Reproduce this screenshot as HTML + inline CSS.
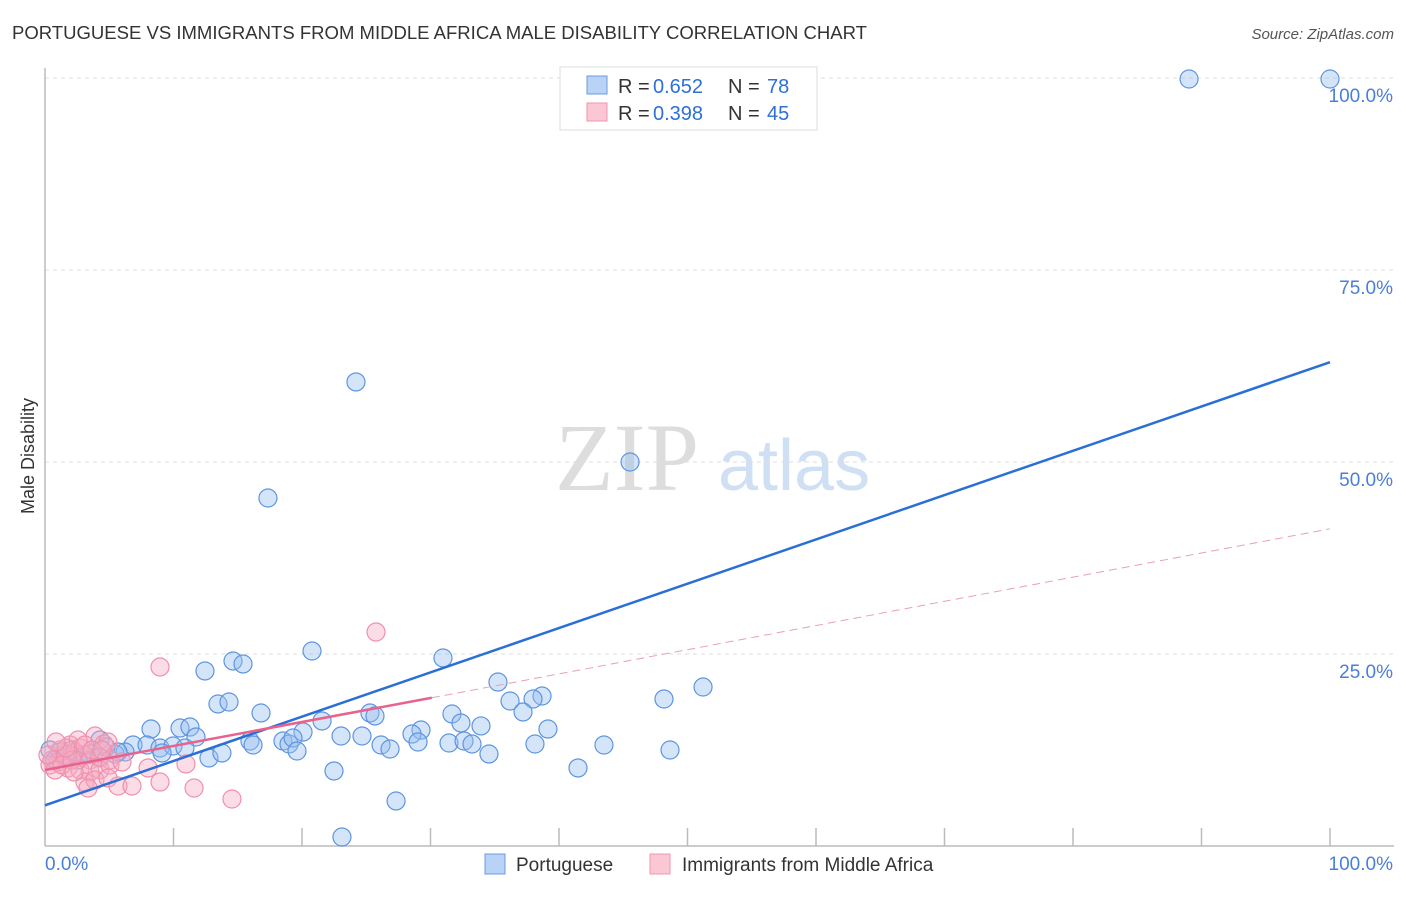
<!DOCTYPE html>
<html><head><meta charset="utf-8"><style>
body{margin:0;background:#fff;font-family:"Liberation Sans",sans-serif}
</style></head><body>
<svg width="1406" height="892" xmlns="http://www.w3.org/2000/svg" font-family="Liberation Sans, sans-serif">
<text x="12" y="39" font-size="18" fill="#333" textLength="855" lengthAdjust="spacingAndGlyphs">PORTUGUESE VS IMMIGRANTS FROM MIDDLE AFRICA MALE DISABILITY CORRELATION CHART</text>
<text x="1394" y="39" font-size="15" fill="#555" text-anchor="end" font-style="italic">Source: ZipAtlas.com</text>
<text x="555" y="490" font-size="96" fill="#ddd" font-family="Liberation Serif, serif">ZIP</text>
<text x="718" y="490" font-size="72" fill="#cfe0f5">atlas</text>
<g id="grid"></g>
<line x1="45" y1="68" x2="45" y2="846" stroke="#bbb" stroke-width="1.5"/>
<line x1="45" y1="846" x2="1394" y2="846" stroke="#bbb" stroke-width="1.5"/>
<text transform="translate(34,456) rotate(-90)" font-size="18" fill="#333" text-anchor="middle">Male Disability</text>
<text x="45" y="870" font-size="19" fill="#4a7fd6">0.0%</text>
<text x="1393" y="870" font-size="19" fill="#4a7fd6" text-anchor="end">100.0%</text>
<g id="pts"></g>
<g id="lines"></g>
<g>
<rect x="560" y="67" width="257" height="63" fill="#fff" stroke="#ddd"/>
<rect x="587" y="76" width="20" height="18" fill="#b8d3f5" stroke="#6a9be0"/>
<rect x="587" y="103" width="20" height="18" fill="#fbc7d5" stroke="#ee97ae"/>
<text x="618" y="93" font-size="20" fill="#333">R =</text>
<text x="653" y="93" font-size="20" fill="#2e6fd8">0.652</text>
<text x="728" y="93" font-size="20" fill="#333">N =</text>
<text x="767" y="93" font-size="20" fill="#2e6fd8">78</text>
<text x="618" y="120" font-size="20" fill="#333">R =</text>
<text x="653" y="120" font-size="20" fill="#2e6fd8">0.398</text>
<text x="728" y="120" font-size="20" fill="#333">N =</text>
<text x="767" y="120" font-size="20" fill="#2e6fd8">45</text>
</g>
<g>
<rect x="485" y="854" width="20" height="20" fill="#b8d3f5" stroke="#6a9be0"/>
<text x="516" y="871" font-size="19" fill="#333">Portuguese</text>
<rect x="650" y="854" width="20" height="20" fill="#fbc7d5" stroke="#ee97ae"/>
<text x="682" y="871" font-size="19" fill="#333">Immigrants from Middle Africa</text>
</g>
</svg>
<script>
const yTicks=[25,50,75,100];
const yTickLabels=["25.0%","50.0%","75.0%","100.0%"];
const xTicks=[10,20,30,40,50,60,70,80,90,100];
const bluePx=[[1189,79],[1330,79],[356,382],[630,462],[268,498],[312,651],[443,658],[233,661],[243,664],[205,671],[498,682],[703,687],[664,699],[542,696],[510,701],[218,704],[229,702],[533,699],[261,713],[523,712],[370,713],[375,716],[452,714],[322,721],[461,723],[481,726],[151,729],[180,728],[190,727],[548,729],[303,732],[421,730],[412,734],[196,737],[362,736],[341,736],[283,741],[250,741],[253,745],[289,744],[293,738],[418,742],[449,743],[464,741],[472,744],[535,744],[604,745],[381,745],[390,749],[297,751],[133,745],[147,745],[160,748],[173,746],[185,748],[125,752],[115,754],[100,740],[106,747],[90,754],[162,753],[209,758],[222,753],[489,754],[670,750],[334,771],[578,768],[396,801],[342,837],[60,752],[72,750],[84,755],[50,750],[65,758],[78,760],[55,760],[99,757],[118,752]];
const pinkPx=[[376,632],[160,667],[95,736],[104,744],[108,742],[70,745],[80,748],[60,750],[52,760],[58,762],[65,755],[75,752],[85,755],[90,760],[100,758],[110,760],[68,768],[80,770],[90,772],[100,770],[110,765],[122,762],[148,768],[186,764],[85,782],[95,780],[88,788],[108,778],[118,786],[132,786],[160,782],[194,788],[232,799],[50,765],[55,770],[62,765],[72,760],[78,740],[85,745],[48,755],[66,748],[92,750],[102,750],[56,742],[74,772]];
const blueX=bluePx.map(p=>+((p[0]-45)/12.85).toFixed(2));
const blueY=bluePx.map(p=>+((846-p[1])/7.68).toFixed(2));
const pinkX=pinkPx.map(p=>+((p[0]-45)/12.85).toFixed(2));
const pinkY=pinkPx.map(p=>+((846-p[1])/7.68).toFixed(2));
const blueTrend=[[0,5.3],[100,63.0]];
const pinkTrend=[[0,9.9],[30.1,19.3],[100,41.3]];
const NS="http://www.w3.org/2000/svg";
const X=v=>45+v*12.85, Y=v=>846-v*7.68;
function mk(t,a,parent){const e=document.createElementNS(NS,t);for(const k in a)e.setAttribute(k,a[k]);document.getElementById(parent).appendChild(e);return e;}
yTicks.forEach((t,i)=>{
 const l=mk('line',{x1:45,x2:1394,y1:Y(t),y2:Y(t),stroke:'#ddd','stroke-dasharray':'4 4'},'grid');
 
 
 const tx=mk('text',{x:1393,y:Y(t)+24,'font-size':19,fill:'#4a7fd6','text-anchor':'end'},'grid');
 tx.textContent=yTickLabels[i];
 
 
});
xTicks.forEach(t=>{
 const l=mk('line',{x1:X(t),x2:X(t),y1:828,y2:846,stroke:'#bbb','stroke-width':1.5},'grid');
 
 
});
blueX.forEach((x,i)=>{
 const c=mk('circle',{cx:X(x),cy:Y(blueY[i]),r:9,fill:'rgba(150,190,240,0.4)',stroke:'#5d95e0','stroke-width':1.2},'pts');
 
 
});
pinkX.forEach((x,i)=>{
 const c=mk('circle',{cx:X(x),cy:Y(pinkY[i]),r:9,fill:'rgba(248,170,195,0.4)',stroke:'#ef90ab','stroke-width':1.2},'pts');
 
 
});
const bl=mk('line',{x1:X(blueTrend[0][0]),y1:Y(blueTrend[0][1]),x2:X(blueTrend[1][0]),y2:Y(blueTrend[1][1]),stroke:'#2a6fd6','stroke-width':2.5},'lines');


const pl=mk('line',{x1:X(pinkTrend[0][0]),y1:Y(pinkTrend[0][1]),x2:X(pinkTrend[1][0]),y2:Y(pinkTrend[1][1]),stroke:'#e8628c','stroke-width':2.5},'lines');


const pd=mk('line',{x1:X(pinkTrend[1][0]),y1:Y(pinkTrend[1][1]),x2:X(pinkTrend[2][0]),y2:Y(pinkTrend[2][1]),stroke:'#e8a0b5','stroke-width':1,'stroke-dasharray':'8 5'},'lines');


</script>
</body></html>
